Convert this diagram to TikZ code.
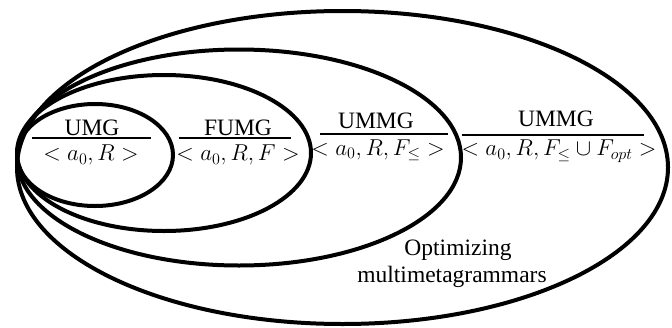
\documentclass[tikz,border=0pt]{standalone}
\usepackage{fix-cm}
\usepackage{fontspec}
\setmainfont{Liberation Serif}
\tikzset{
  ring/.style={line width=4pt},
  bar/.style={line width=2pt},
  lab/.style={inner sep=0pt, font=\fontsize{23.5}{27}\selectfont},
  formula/.style={inner sep=0pt, font=\fontsize{23}{27}\selectfont},
}
\begin{document}
\begin{tikzpicture}[x=1pt,y=-1pt]
\useasboundingbox (0,0) rectangle (672,327);
% nested ellipses
\draw[ring] (342.5,167.5) ellipse [x radius=325.5, y radius=156.5];
\draw[ring] (239,157.5) ellipse [x radius=222, y radius=108];
\draw[ring] (164,153) ellipse [x radius=147, y radius=78];
\draw[ring] (95,155) ellipse [x radius=78, y radius=51];
% UMG
\node[lab,anchor=base] (t1) at (92,135) {UMG};
\coordinate (l1a) at (32,137.5);
\coordinate (l1b) at (151,137.5);
\draw[bar] (l1a) -- (l1b);
\node[formula] (m1) at (91,155) {$<a_0,R>$};
% FUMG
\node[lab,anchor=base] (t2) at (238,135) {FUMG};
\coordinate (l2a) at (179,137.5);
\coordinate (l2b) at (291,137.5);
\draw[bar] (l2a) -- (l2b);
\node[formula] (m2) at (238,155) {$<a_0,R,F>$};
% UMMG
\node[lab,anchor=base] (t3) at (376,128) {UMMG};
\coordinate (l3a) at (320,133.5);
\coordinate (l3b) at (448,133.5);
\draw[bar] (l3a) -- (l3b);
\node[formula] (m3) at (378,150) {$<a_0,R,F_\leq>$};
% UMMG outer
\node[lab,anchor=base] (t4) at (556,126) {UMMG};
\coordinate (l4a) at (462,134.5);
\coordinate (l4b) at (644,134.5);
\draw[bar] (l4a) -- (l4b);
\node[formula] (m4) at (559,151) {$<a_0,R,F_\leq\cup F_{opt}>$};
% caption
\node[lab] (c1) at (458,250) {Optimizing};
\node[lab] (c2) at (452,277) {multimetagrammars};
\end{tikzpicture}
\end{document}
